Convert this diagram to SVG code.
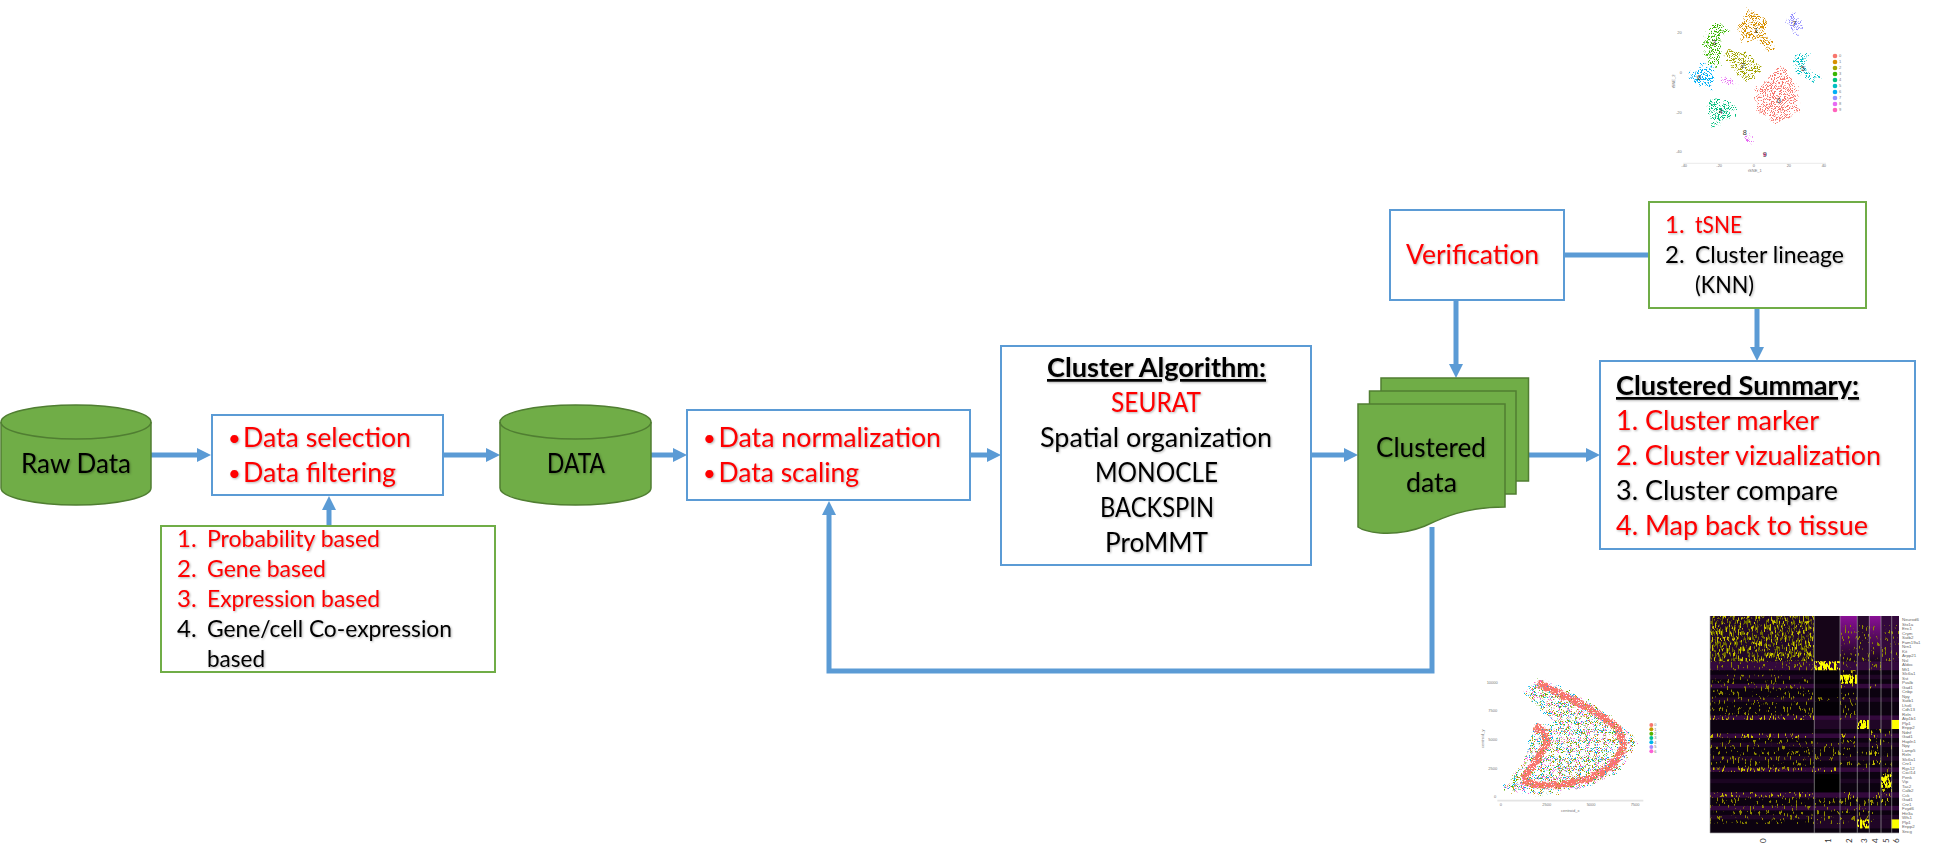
<svg xmlns="http://www.w3.org/2000/svg" width="1934" height="847" viewBox="0 0 1934 847">
<style>
text{font-family:Lato,"Liberation Sans",sans-serif}
.m{font-size:27px;filter:url(#ts)}
.s{font-size:24px;filter:url(#ts)}
.bu{font-size:22px}
.r{fill:#f00}.k{fill:#000}
.b{font-weight:700;text-decoration:underline}
.bx{fill:#fff;stroke:#5B9BD5;stroke-width:2}
.gb{fill:#fff;stroke:#70AD47;stroke-width:2}
.g{fill:#70AD47;stroke:#507E32;stroke-width:1.5}
.ln{fill:none;stroke:#5B9BD5;stroke-width:5}
.mt{font-size:4.4px;fill:#666;font-family:"Liberation Sans",sans-serif}
.ax{font-size:12px;fill:#777;font-family:"Liberation Sans",sans-serif}
.cl{font-size:22px;fill:#333;font-family:"Liberation Sans",sans-serif;text-anchor:middle}
.hl{stroke:#aaa;stroke-width:.8;opacity:.8}
</style>
<defs>
<marker id="ah" markerUnits="userSpaceOnUse" markerWidth="14" markerHeight="14" refX="0" refY="7" orient="auto"><path d="M0,0L14,7L0,14Z" fill="#5B9BD5"/></marker>
<filter id="ts" x="-5%" y="-20%" width="110%" height="150%" color-interpolation-filters="sRGB"><feDropShadow dx="1" dy="1" stdDeviation=".8" flood-color="#000" flood-opacity=".3"/></filter>
<filter id="d1" x="-.2" y="-.2" width="1.400" height="1.400" color-interpolation-filters="sRGB"><feTurbulence type="fractalNoise" baseFrequency=".07" numOctaves="2" seed="2" result="w"/><feDisplacementMap in="SourceGraphic" in2="w" scale="34" xChannelSelector="R" yChannelSelector="G" result="sh"/><feTurbulence type="fractalNoise" baseFrequency=".37" numOctaves="2" seed="3"/><feColorMatrix type="matrix" values="0 0 0 0 0 0 0 0 0 0 0 0 0 0 0 0 0 0 14 -7.300"/><feComposite in="sh" operator="in"/><feGaussianBlur stdDeviation="1.100"/></filter>
<filter id="d2" x="-.1" y="-.1" width="1.200" height="1.200" color-interpolation-filters="sRGB"><feTurbulence type="fractalNoise" baseFrequency=".05" numOctaves="2" seed="6" result="w"/><feDisplacementMap in="SourceGraphic" in2="w" scale="30" xChannelSelector="R" yChannelSelector="G" result="sh"/><feTurbulence type="fractalNoise" baseFrequency=".37" numOctaves="2" seed="11"/><feColorMatrix type="matrix" values="0 0 0 0 0 0 0 0 0 0 0 0 0 0 0 0 0 0 14 -8.800"/><feComposite in="sh" operator="in"/><feGaussianBlur stdDeviation=".9"/></filter>
<filter id="d3" x="-.1" y="-.1" width="1.200" height="1.200" color-interpolation-filters="sRGB"><feTurbulence type="fractalNoise" baseFrequency=".05" numOctaves="2" seed="7" result="w"/><feDisplacementMap in="SourceGraphic" in2="w" scale="30" xChannelSelector="R" yChannelSelector="G" result="sh"/><feTurbulence type="fractalNoise" baseFrequency=".37" numOctaves="2" seed="23"/><feColorMatrix type="matrix" values="0 0 0 0 0 0 0 0 0 0 0 0 0 0 0 0 0 0 14 -8.800"/><feComposite in="sh" operator="in"/><feGaussianBlur stdDeviation=".9"/></filter>
<filter id="d4" x="-.1" y="-.1" width="1.200" height="1.200" color-interpolation-filters="sRGB"><feTurbulence type="fractalNoise" baseFrequency=".05" numOctaves="2" seed="8" result="w"/><feDisplacementMap in="SourceGraphic" in2="w" scale="30" xChannelSelector="R" yChannelSelector="G" result="sh"/><feTurbulence type="fractalNoise" baseFrequency=".37" numOctaves="2" seed="37"/><feColorMatrix type="matrix" values="0 0 0 0 0 0 0 0 0 0 0 0 0 0 0 0 0 0 14 -8.800"/><feComposite in="sh" operator="in"/><feGaussianBlur stdDeviation=".9"/></filter>
<filter id="d5" x="-.1" y="-.1" width="1.200" height="1.200" color-interpolation-filters="sRGB"><feTurbulence type="fractalNoise" baseFrequency=".05" numOctaves="2" seed="9" result="w"/><feDisplacementMap in="SourceGraphic" in2="w" scale="30" xChannelSelector="R" yChannelSelector="G" result="sh"/><feTurbulence type="fractalNoise" baseFrequency=".37" numOctaves="2" seed="51"/><feColorMatrix type="matrix" values="0 0 0 0 0 0 0 0 0 0 0 0 0 0 0 0 0 0 14 -8.800"/><feComposite in="sh" operator="in"/><feGaussianBlur stdDeviation=".9"/></filter>
<filter id="d6" x="-.1" y="-.1" width="1.200" height="1.200" color-interpolation-filters="sRGB"><feTurbulence type="fractalNoise" baseFrequency=".09" numOctaves="2" seed="4" result="w"/><feDisplacementMap in="SourceGraphic" in2="w" scale="14" xChannelSelector="R" yChannelSelector="G" result="sh"/><feTurbulence type="fractalNoise" baseFrequency=".37" numOctaves="2" seed="8"/><feColorMatrix type="matrix" values="0 0 0 0 0 0 0 0 0 0 0 0 0 0 0 0 0 0 14 -5"/><feComposite in="sh" operator="in"/><feGaussianBlur stdDeviation=".8"/></filter>
<filter id="hA" x="0" y="0" width="1" height="1" color-interpolation-filters="sRGB"><feTurbulence type="fractalNoise" baseFrequency=".57 .83" numOctaves="2" seed="5"/><feColorMatrix type="matrix" values="0 0 0 0 0 0 0 0 0 0 0 0 0 0 0 0 0 0 12 -6.400"/><feComposite in="SourceGraphic" operator="in"/><feGaussianBlur stdDeviation=".35 .05"/></filter>
<filter id="hB" x="0" y="0" width="1" height="1" color-interpolation-filters="sRGB"><feTurbulence type="fractalNoise" baseFrequency=".57 .83" numOctaves="2" seed="14"/><feColorMatrix type="matrix" values="0 0 0 0 0 0 0 0 0 0 0 0 0 0 0 0 0 0 14 -8.400"/><feComposite in="SourceGraphic" operator="in"/><feGaussianBlur stdDeviation=".35 .05"/></filter>
<filter id="hC" x="0" y="0" width="1" height="1" color-interpolation-filters="sRGB"><feTurbulence type="fractalNoise" baseFrequency=".57 .83" numOctaves="2" seed="29"/><feColorMatrix type="matrix" values="0 0 0 0 0 0 0 0 0 0 0 0 0 0 0 0 0 0 14 -8.800"/><feComposite in="SourceGraphic" operator="in"/><feGaussianBlur stdDeviation=".35 .05"/></filter>
<filter id="hY" x="0" y="0" width="1" height="1" color-interpolation-filters="sRGB"><feTurbulence type="fractalNoise" baseFrequency=".57 .83" numOctaves="2" seed="41"/><feColorMatrix type="matrix" values="0 0 0 0 0 0 0 0 0 0 0 0 0 0 0 0 0 0 12 -5.200"/><feComposite in="SourceGraphic" operator="in"/><feGaussianBlur stdDeviation=".3 .05"/></filter>
<linearGradient id="pt" x1="0" y1="0" x2="0" y2="1"><stop offset="0" stop-color="#8a1096"/><stop offset="1" stop-color="#1a051e"/></linearGradient>
</defs>
<rect width="1934" height="847" fill="#fff"/>

<g id="connectors">
<path class="ln" d="M151,455H197" marker-end="url(#ah)"/>
<path class="ln" d="M443,455H486" marker-end="url(#ah)"/>
<path class="ln" d="M651,455H673" marker-end="url(#ah)"/>
<path class="ln" d="M970,455H987" marker-end="url(#ah)"/>
<path class="ln" d="M1311,455H1344" marker-end="url(#ah)"/>
<path class="ln" d="M1528,455H1586" marker-end="url(#ah)"/>
<path class="ln" d="M329,526V510" marker-end="url(#ah)"/>
<path class="ln" d="M1456,300V364" marker-end="url(#ah)"/>
<path class="ln" d="M1564,255H1649"/>
<path class="ln" d="M1757,308V347" marker-end="url(#ah)"/>
<path class="ln" d="M1432,527V671H829V515" marker-end="url(#ah)"/>
</g>

<g id="raw-data">
<path class="g" d="M1,422A75,17 0 0 1 151,422V488A75,17 0 0 1 1,488Z"/>
<path class="g" style="fill:none" d="M1,422A75,17 0 0 0 151,422"/>
<text class="m k" x="21" y="473" textLength="110" lengthAdjust="spacingAndGlyphs">Raw Data</text>
</g>
<g id="data-select">
<rect class="bx" x="212" y="415" width="231" height="80"/>
<text class="m bu r" x="228" y="446">•</text><text class="m r" x="243" y="447" textLength="168" lengthAdjust="spacingAndGlyphs">Data selection</text>
<text class="m bu r" x="228" y="481">•</text><text class="m r" x="243" y="482" textLength="153" lengthAdjust="spacingAndGlyphs">Data filtering</text>
</g>
<g id="filter-list">
<rect class="gb" x="161" y="526" width="334" height="146"/>
<text class="s r" x="177" y="547">1.</text><text class="s r" x="207" y="547" textLength="173" lengthAdjust="spacingAndGlyphs">Probability based</text>
<text class="s r" x="177" y="577">2.</text><text class="s r" x="207" y="577" textLength="119" lengthAdjust="spacingAndGlyphs">Gene based</text>
<text class="s r" x="177" y="607">3.</text><text class="s r" x="207" y="607" textLength="173" lengthAdjust="spacingAndGlyphs">Expression based</text>
<text class="s k" x="177" y="637">4.</text><text class="s k" x="207" y="637" textLength="245" lengthAdjust="spacingAndGlyphs">Gene/cell Co-expression</text>
<text class="s k" x="207" y="667" textLength="58" lengthAdjust="spacingAndGlyphs">based</text>
</g>
<g id="data">
<path class="g" d="M500,422A75.5,17 0 0 1 651,422V488A75.5,17 0 0 1 500,488Z"/>
<path class="g" style="fill:none" d="M500,422A75.5,17 0 0 0 651,422"/>
<text class="m k" x="547" y="473" textLength="58" lengthAdjust="spacingAndGlyphs">DATA</text>
</g>
<g id="normalize">
<rect class="bx" x="687" y="410" width="283" height="90"/>
<text class="m bu r" x="703" y="446">•</text><text class="m r" x="718.500" y="447" textLength="222.500" lengthAdjust="spacingAndGlyphs">Data normalization</text>
<text class="m bu r" x="703" y="481">•</text><text class="m r" x="718.500" y="482" textLength="140.500" lengthAdjust="spacingAndGlyphs">Data scaling</text>
</g>
<g id="algorithm">
<rect class="bx" x="1001" y="346" width="310" height="219"/>
<text class="m k b" x="1047" y="377" textLength="219" lengthAdjust="spacingAndGlyphs">Cluster Algorithm:</text>
<text class="m r" x="1111" y="412" textLength="90" lengthAdjust="spacingAndGlyphs">SEURAT</text>
<text class="m k" x="1040" y="447" textLength="232" lengthAdjust="spacingAndGlyphs">Spatial organization</text>
<text class="m k" x="1095" y="482" textLength="123" lengthAdjust="spacingAndGlyphs">MONOCLE</text>
<text class="m k" x="1100" y="517" textLength="114" lengthAdjust="spacingAndGlyphs">BACKSPIN</text>
<text class="m k" x="1105" y="552" textLength="103" lengthAdjust="spacingAndGlyphs">ProMMT</text>
</g>
<g id="clustered-data">
<rect class="g" x="1381" y="378" width="147.500" height="103"/>
<rect class="g" x="1369.500" y="391" width="146.500" height="103"/>
<path class="g" d="M1358,404H1505V507C1465,507 1442,518 1425,526C1410,532 1395,534 1380,533C1370,532 1362,530 1358,527Z"/>
<text class="m k" x="1376" y="457" textLength="110" lengthAdjust="spacingAndGlyphs">Clustered</text>
<text class="m k" x="1406" y="492" textLength="51" lengthAdjust="spacingAndGlyphs">data</text>
</g>
<g id="verification">
<rect class="bx" x="1390" y="210" width="174" height="90"/>
<text class="m r" x="1406" y="264" textLength="133" lengthAdjust="spacingAndGlyphs">Verification</text>
</g>
<g id="tsne-list">
<rect class="gb" x="1649" y="202" width="217" height="106"/>
<text class="s r" x="1665" y="233">1.</text><text class="s r" x="1695" y="233" textLength="47" lengthAdjust="spacingAndGlyphs">tSNE</text>
<text class="s k" x="1665" y="263">2.</text><text class="s k" x="1695" y="263" textLength="149" lengthAdjust="spacingAndGlyphs">Cluster lineage</text>
<text class="s k" x="1695" y="293" textLength="59" lengthAdjust="spacingAndGlyphs">(KNN)</text>
</g>
<g id="summary">
<rect class="bx" x="1600" y="361" width="315" height="188"/>
<text class="m k b" x="1616" y="395" textLength="243" lengthAdjust="spacingAndGlyphs">Clustered Summary:</text>
<text class="m r" x="1616" y="430" textLength="203" lengthAdjust="spacingAndGlyphs">1. Cluster marker</text>
<text class="m r" x="1616" y="465" textLength="265" lengthAdjust="spacingAndGlyphs">2. Cluster vizualization</text>
<text class="m k" x="1616" y="500" textLength="222" lengthAdjust="spacingAndGlyphs">3. Cluster compare</text>
<text class="m r" x="1616" y="535" textLength="252" lengthAdjust="spacingAndGlyphs">4. Map back to tissue</text>
</g>

<g id="tsne-plot" transform="translate(1620,0) scale(.33333)">
<path filter="url(#d1)" fill="#F8766D" d="M485,195L530,260L540,330L470,372L410,330L410,270L450,230Z"/>
<path filter="url(#d1)" fill="#D89000" d="M385,28L440,55L440,110L462,130L445,152L415,122L370,122L355,85Z"/>
<path filter="url(#d1)" fill="#9590FF" d="M520,40L550,70L530,108L505,78L500,55Z"/>
<path filter="url(#d1)" fill="#39B600" d="M290,66L328,90L300,110L305,160L295,205L270,190L252,150L260,90Z"/>
<path filter="url(#d1)" fill="#A3A500" d="M325,150L380,158L428,205L385,248L350,215L313,175Z"/>
<path filter="url(#d1)" fill="#00B0F6" d="M245,190L285,200L272,268L225,252L208,225Z"/>
<path filter="url(#d1)" fill="#00BFC4" d="M518,165L567,160L555,205L602,232L580,244L520,215L530,190Z"/>
<path filter="url(#d1)" fill="#00BF7D" d="M300,295L350,320L330,355L280,380L264,325L272,298Z"/>
<path filter="url(#d1)" fill="#E76BF3" d="M374,403L398,405L398,425L385,432Z"/>
<path filter="url(#d1)" fill="#E76BF3" d="M302,230L322,235L345,243L352,262L345,250L320,250L305,252Z"/>
<circle cx="434" cy="464" r="4" fill="#FF62BC"/>
<text class="cl" x="476" y="309">0</text><text class="cl" x="408" y="99">1</text><text class="cl" x="368" y="203">2</text><text class="cl" x="282" y="135">3</text><text class="cl" x="302" y="343">4</text><text class="cl" x="549" y="212">5</text><text class="cl" x="237" y="240">6</text><text class="cl" x="523" y="79">7</text><text class="cl" x="374" y="405">8</text><text class="cl" x="434" y="471">9</text>
<g>
<circle cx="645" cy="168" r="7" fill="#F8766D"/><circle cx="645" cy="186" r="7" fill="#D89000"/><circle cx="645" cy="204" r="7" fill="#A3A500"/><circle cx="645" cy="222" r="7" fill="#39B600"/><circle cx="645" cy="240" r="7" fill="#00BF7D"/><circle cx="645" cy="258" r="7" fill="#00BFC4"/><circle cx="645" cy="276" r="7" fill="#00B0F6"/><circle cx="645" cy="294" r="7" fill="#9590FF"/><circle cx="645" cy="312" r="7" fill="#E76BF3"/><circle cx="645" cy="330" r="7" fill="#FF62BC"/>
<text class="ax" x="657" y="172">0</text><text class="ax" x="657" y="190">1</text><text class="ax" x="657" y="208">2</text><text class="ax" x="657" y="226">3</text><text class="ax" x="657" y="244">4</text><text class="ax" x="657" y="262">5</text><text class="ax" x="657" y="280">6</text><text class="ax" x="657" y="298">7</text><text class="ax" x="657" y="316">8</text><text class="ax" x="657" y="334">9</text>
</g>
<path d="M190,490H618" stroke="#eee" stroke-width="4"/>
<text class="ax" x="172" y="101">20</text><text class="ax" x="179" y="221">0</text><text class="ax" x="168" y="341">-20</text><text class="ax" x="168" y="460">-40</text>
<text class="ax" x="184" y="502">-40</text><text class="ax" x="289" y="502">-20</text><text class="ax" x="398" y="502">0</text><text class="ax" x="500" y="502">20</text><text class="ax" x="605" y="502">40</text>
<text class="ax" x="384" y="517">tSNE_1</text><text class="ax" transform="translate(166,265) rotate(-90)">tSNE_2</text>
</g>

<g id="spatial-plot" transform="translate(1480,670) scale(.33333)">
<path filter="url(#d2)" fill="#53B400" d="M130,65L180,28L330,95L472,210L420,300L330,348L170,376L72,355L130,280L165,165L230,165Z"/>
<path filter="url(#d3)" fill="#C49A00" d="M130,65L180,28L330,95L472,210L420,300L330,348L170,376L72,355L130,280L165,165L230,165Z"/>
<path filter="url(#d4)" fill="#00B6EB" d="M130,65L180,28L330,95L472,210L420,300L330,348L170,376L72,355L130,280L165,165L230,165Z"/>
<path filter="url(#d5)" fill="#FB61D7" d="M130,65L180,28L330,95L472,210L420,300L330,348L170,376L72,355L130,280L165,165L230,165Z"/>
<g filter="url(#d6)">
<path fill="none" stroke="#F8766D" stroke-width="20" d="M172,40L230,65L340,122L415,175L432,230L400,285L330,325L240,345L170,345L125,330"/>
<path fill="none" stroke="#F8766D" stroke-width="22" d="M130,325L172,270L200,215L190,185L165,170"/>
</g>
<path d="M52,392H490" stroke="#e4e4e4" stroke-width="5"/>
<circle cx="514" cy="165" r="6" fill="#F8766D"/><circle cx="514" cy="178" r="6" fill="#C49A00"/><circle cx="514" cy="191" r="6" fill="#53B400"/><circle cx="514" cy="204" r="6" fill="#00C094"/><circle cx="514" cy="217" r="6" fill="#00B6EB"/><circle cx="514" cy="231" r="6" fill="#A58AFF"/><circle cx="514" cy="244" r="6" fill="#FB61D7"/>
<text class="ax" x="523" y="169">0</text><text class="ax" x="523" y="182">1</text><text class="ax" x="523" y="195">2</text><text class="ax" x="523" y="208">3</text><text class="ax" x="523" y="221">4</text><text class="ax" x="523" y="235">5</text><text class="ax" x="523" y="248">6</text>
<text class="ax" x="20" y="41">10000</text><text class="ax" x="25" y="126">7500</text><text class="ax" x="25" y="214">5000</text><text class="ax" x="25" y="300">2500</text><text class="ax" x="42" y="385">0</text>
<text class="ax" x="59" y="408">0</text><text class="ax" x="187" y="408">2500</text><text class="ax" x="320" y="408">5000</text><text class="ax" x="452" y="408">7500</text>
<text class="ax" x="243" y="426">centroid_x</text><text class="ax" transform="translate(12,234) rotate(-90)">centroid_y</text>
</g>

<g id="heatmap">
<g transform="translate(1710,616) scale(1,4.52)">
<rect width="189" height="48" fill="#0c0210"/>
<g fill="#33093c">
<rect width="189" y="10" height="2"/><rect width="189" y="15" height="1"/><rect width="189" y="22" height="1"/><rect width="189" y="26" height="1"/><rect width="189" y="39" height="1.200"/><rect width="189" y="42" height="1"/><rect width="189" y="33.500" height="1"/><rect width="189" y="13" height="1" opacity=".5"/><rect width="189" y="18" height="1" opacity=".5"/><rect width="189" y="28" height="1" opacity=".5"/><rect width="189" y="31" height="1" opacity=".5"/><rect width="189" y="36" height="1" opacity=".4"/><rect width="189" y="44" height="1" opacity=".5"/>
<rect x="104" y="23" width="85" height="2" opacity=".5"/><rect x="104" y="45" width="85" height="2" opacity=".5"/>
</g>
<rect width="104" height="10" fill="#22082a"/>
<rect x="104" width="26" height="10" fill="#160518"/>
<rect x="130" width="17" height="10" fill="url(#pt)"/><rect x="147" width="12" height="10" fill="#2a0a30"/><rect x="159" width="12" height="10" fill="url(#pt)"/><rect x="171" width="18" height="10" fill="#33093c"/>
<rect x="104" y="35" width="26" height="4" fill="#000"/><rect x="104" y="12" width="26" height="10" fill="#000" opacity=".6"/>
<g filter="url(#hA)" fill="#6a6600"><rect width="104" height="10"/></g>
<g filter="url(#hB)" fill="#c8c000">
<rect width="104" height="10"/>
<rect x="130" y="12" width="17" height="4"/><rect x="159" y="15" width="11" height="1"/><rect x="130" y="26" width="17" height="1"/><rect x="159" y="25" width="12" height="8"/><rect x="171" y="35" width="11" height="4"/><rect x="159" y="39" width="23" height="3"/>
<rect y="39" width="104" height="1"/><rect x="130" y="39" width="17" height="2"/><rect y="22" width="104" height="1"/><rect y="26" width="104" height="1"/><rect y="33.500" width="130" height="1"/>
</g>
<g filter="url(#hC)" fill="#8f8800">
<rect y="10" width="104" height="2"/><rect y="15" width="104" height="1"/><rect y="18" width="104" height="1"/><rect y="27" width="104" height="7"/><rect y="40" width="104" height="6"/><rect x="104" y="18" width="26" height="1"/><rect x="104" y="40" width="60" height="6"/><rect x="130" y="17" width="17" height="6"/><rect x="130" y="27" width="17" height="6"/><rect x="104" y="28" width="26" height="4"/><rect x="171" y="25" width="11" height="10"/><rect x="159" y="10" width="12" height="2"/><rect x="130" y="10" width="17" height="2"/><rect x="130" y="2" width="59" height="8"/><rect x="147" y="30" width="12" height="4"/><rect y="13" width="104" height="9"/>
</g>
<g fill="#ffff00">
<rect x="104" y="10" width="26" height="2" filter="url(#hY)"/>
<rect x="147" y="23" width="12" height="2" filter="url(#hY)"/>
<rect x="147" y="45" width="12" height="2" filter="url(#hY)"/>
<rect x="130" y="13" width="17" height="2" filter="url(#hY)"/>
<rect x="171" y="35" width="11" height="3" filter="url(#hY)"/>
<rect x="181.500" y="23" width="7.500" height="2"/>
<rect x="181.500" y="45" width="7.500" height="2"/>
</g>
</g>
<path class="hl" d="M1710,616V833M1814.300,616V833M1840,616V833M1857.300,616V833M1869.300,616V833M1881,616V833M1891.700,616V833M1710,833H1899"/>
<text class="mt" x="1902" y="621">Neurod6</text><text class="mt" x="1902" y="625.500">Stx1a</text><text class="mt" x="1902" y="630">Enc1</text><text class="mt" x="1902" y="634.500">Crym</text><text class="mt" x="1902" y="639">Satb2</text><text class="mt" x="1902" y="643.500">Fam19a1</text><text class="mt" x="1902" y="648">Nrn1</text><text class="mt" x="1902" y="652.500">Kit</text><text class="mt" x="1902" y="657">Arpp21</text><text class="mt" x="1902" y="661.500">Nsl</text><text class="mt" x="1902" y="666">Aldoc</text><text class="mt" x="1902" y="670.500">Mt1</text><text class="mt" x="1902" y="675">Slc6a1</text><text class="mt" x="1902" y="679.500">Sst</text><text class="mt" x="1902" y="684">Pvalb</text><text class="mt" x="1902" y="688.500">Gad1</text><text class="mt" x="1902" y="693">Cnbp</text><text class="mt" x="1902" y="697.500">Npy</text><text class="mt" x="1902" y="702">Satb1</text><text class="mt" x="1902" y="706.500">Lhx6</text><text class="mt" x="1902" y="711">Cdh13</text><text class="mt" x="1902" y="715.500">Reln</text><text class="mt" x="1902" y="720">Atp1b1</text><text class="mt" x="1902" y="724.500">Plp1</text><text class="mt" x="1902" y="729">Enpp2</text><text class="mt" x="1902" y="733.500">Ndnf</text><text class="mt" x="1902" y="738">Gad1</text><text class="mt" x="1902" y="742.500">Hapln1</text><text class="mt" x="1902" y="747">Npy</text><text class="mt" x="1902" y="751.500">Lamp5</text><text class="mt" x="1902" y="756">Reln</text><text class="mt" x="1902" y="760.500">Slc6a1</text><text class="mt" x="1902" y="765">Cnr1</text><text class="mt" x="1902" y="769.500">Rgs12</text><text class="mt" x="1902" y="774">Cxcl14</text><text class="mt" x="1902" y="778.500">Penk</text><text class="mt" x="1902" y="783">Vip</text><text class="mt" x="1902" y="787.500">Tac2</text><text class="mt" x="1902" y="792">Calb2</text><text class="mt" x="1902" y="796.500">Cck</text><text class="mt" x="1902" y="801">Gad1</text><text class="mt" x="1902" y="805.500">Cnr1</text><text class="mt" x="1902" y="810">Fxyd6</text><text class="mt" x="1902" y="814.500">Htr3a</text><text class="mt" x="1902" y="819">Wfs1</text><text class="mt" x="1902" y="823.500">Plp1</text><text class="mt" x="1902" y="828">Enpp2</text><text class="mt" x="1902" y="832.500">Sncg</text>
<g font-size="8" fill="#333">
<text transform="translate(1766,843) rotate(-90)">0</text><text transform="translate(1831,843) rotate(-90)">1</text><text transform="translate(1852,843) rotate(-90)">2</text><text transform="translate(1867,843) rotate(-90)">3</text><text transform="translate(1878,843) rotate(-90)">4</text><text transform="translate(1889,843) rotate(-90)">5</text><text transform="translate(1899,843) rotate(-90)">6</text>
</g>
</g>
</svg>
